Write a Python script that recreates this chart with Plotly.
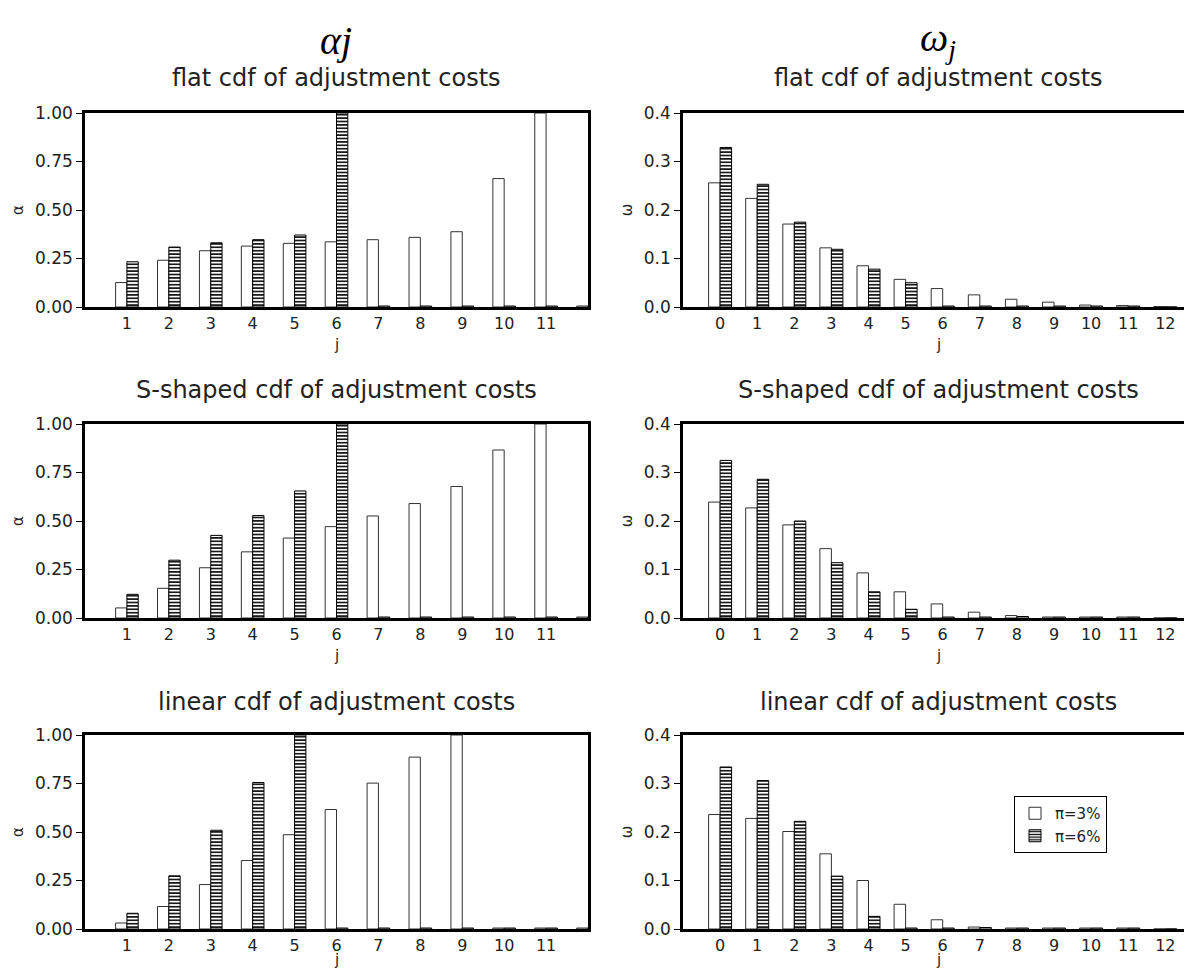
import plotly.graph_objects as go

# ---------------- data ----------------
j_alpha = [1, 2, 3, 4, 5, 6, 7, 8, 9, 10, 11, 12]
j_omega = [0, 1, 2, 3, 4, 5, 6, 7, 8, 9, 10, 11, 12]
alpha_ticks = [1, 2, 3, 4, 5, 6, 7, 8, 9, 10, 11]
omega_ticks = [0, 1, 2, 3, 4, 5, 6, 7, 8, 9, 10, 11, 12]

series_names = ["π=3%", "π=6%"]
panel_titles = ["flat cdf of adjustment costs",
                "S-shaped cdf of adjustment costs",
                "linear cdf of adjustment costs"]

# alpha_j  (flat, S-shaped, linear); pi = 3% and pi = 6%
alpha_flat_3 = [0.126, 0.241, 0.290, 0.314, 0.328, 0.336, 0.347, 0.359, 0.388, 0.662, 1.000, 0.005]
alpha_flat_6 = [0.233, 0.309, 0.331, 0.347, 0.371, 1.000, 0.005, 0.005, 0.005, 0.005, 0.005, 0.005]
alpha_s_3 = [0.052, 0.153, 0.259, 0.341, 0.412, 0.471, 0.526, 0.590, 0.678, 0.866, 1.000, 0.005]
alpha_s_6 = [0.122, 0.298, 0.426, 0.528, 0.655, 1.000, 0.005, 0.005, 0.005, 0.005, 0.005, 0.005]
alpha_lin_3 = [0.031, 0.116, 0.229, 0.353, 0.486, 0.616, 0.752, 0.886, 1.000, 0.005, 0.005, 0.005]
alpha_lin_6 = [0.081, 0.274, 0.509, 0.755, 1.000, 0.005, 0.005, 0.005, 0.005, 0.005, 0.005, 0.005]

# omega_j
omega_flat_3 = [0.256, 0.224, 0.171, 0.122, 0.085, 0.057, 0.038, 0.025, 0.016, 0.010, 0.004, 0.003, 0.001]
omega_flat_6 = [0.329, 0.253, 0.175, 0.119, 0.078, 0.050, 0.002, 0.002, 0.002, 0.002, 0.002, 0.002, 0.0]
omega_s_3 = [0.239, 0.227, 0.192, 0.143, 0.093, 0.054, 0.029, 0.012, 0.005, 0.002, 0.002, 0.002, 0.0]
omega_s_6 = [0.325, 0.286, 0.200, 0.114, 0.054, 0.018, 0.002, 0.002, 0.003, 0.002, 0.002, 0.002, 0.0]
omega_lin_3 = [0.236, 0.228, 0.201, 0.155, 0.100, 0.051, 0.019, 0.004, 0.002, 0.002, 0.002, 0.002, 0.0]
omega_lin_6 = [0.334, 0.306, 0.222, 0.109, 0.026, 0.002, 0.002, 0.003, 0.002, 0.002, 0.002, 0.002, 0.0]

alpha_series = [(alpha_flat_3, alpha_flat_6), (alpha_s_3, alpha_s_6), (alpha_lin_3, alpha_lin_6)]
omega_series = [(omega_flat_3, omega_flat_6), (omega_s_3, omega_s_6), (omega_lin_3, omega_lin_6)]

# ---------------- layout geometry ----------------
# the page body has an 8px default margin: size the figure so it fits the window
OFF = 8
W, H = 1192 - 2 * OFF, 977 - 2 * OFF


def px(xp):
    return (xp - OFF) / W


def py(yp):
    return 1 - (yp - OFF) / H


left_dom = [px(85), px(588)]
right_dom = [px(683), 1.0]
rows_px = [(113, 307), (424, 618), (735, 929)]
omega_right = -1 + (1192 - OFF - 683) / 37.1

TICK_FONT = dict(family="DejaVu Sans", size=17, color="#222")
XTICK_FONT = dict(family="DejaVu Sans", size=16, color="#222")
J_FONT = dict(family="DejaVu Sans", size=15, color="#222")
LINE_W = 2.5

fig = go.Figure()

white_marker = dict(color="white", line=dict(color="#333", width=1))
hatch_marker = dict(color="white", line=dict(color="black", width=1),
                    pattern=dict(shape="-", fgcolor="black", bgcolor="white",
                                 size=3.4, solidity=0.45))

layout = dict(template="none", width=W, height=H, margin=dict(l=0, r=0, t=0, b=0, pad=0),
              paper_bgcolor="white", plot_bgcolor="white",
              barmode="overlay", showlegend=True)

annotations = []
k = 0
for r in range(3):
    top, bot = rows_px[r]
    ydom = [py(bot), py(top)]
    for c in range(2):
        k += 1
        xa = "x" if k == 1 else f"x{k}"
        ya = "y" if k == 1 else f"y{k}"
        if c == 0:
            xs = j_alpha
            s3, s6 = alpha_series[r]
            bw = 0.27
            xrange = [0, 12]
            tickvals = alpha_ticks
            yrange = [0, 1.0]
            ytickvals = [0, 0.25, 0.5, 0.75, 1.0]
            ytext = [f"{v:.2f}" for v in ytickvals]
            ytitle = "α"
            dom = left_dom
            ymirror = True
            cx = dom[0] / 2 + dom[1] / 2
        else:
            xs = j_omega
            s3, s6 = omega_series[r]
            bw = 0.31
            xrange = [-1, omega_right]
            tickvals = omega_ticks
            yrange = [0, 0.4]
            ytickvals = [0, 0.1, 0.2, 0.3, 0.4]
            ytext = [f"{v:.1f}" for v in ytickvals]
            ytitle = "ω"
            dom = right_dom
            ymirror = False
            cx = px(938)
        fig.add_trace(go.Bar(x=xs, y=s3, width=bw, offset=-bw, marker=white_marker,
                             name=series_names[0], legendgroup="a",
                             showlegend=(k == 1), xaxis=xa, yaxis=ya))
        fig.add_trace(go.Bar(x=xs, y=s6, width=bw, offset=0, marker=hatch_marker,
                             name=series_names[1], legendgroup="b",
                             showlegend=(k == 1), xaxis=xa, yaxis=ya))
        xkey = "xaxis" if k == 1 else f"xaxis{k}"
        ykey = "yaxis" if k == 1 else f"yaxis{k}"
        layout[xkey] = dict(domain=dom, anchor=ya, range=xrange, tickvals=tickvals,
                            ticks="", showgrid=False, zeroline=False, automargin=False,
                            showline=True, linecolor="black", linewidth=LINE_W,
                            mirror=True, tickfont=XTICK_FONT)
        layout[ykey] = dict(domain=ydom, anchor=xa, range=yrange, tickvals=ytickvals,
                            ticktext=ytext, ticks="outside", ticklen=6, tickwidth=1,
                            tickcolor="black", showgrid=False, zeroline=False,
                            automargin=False,
                            showline=True, linecolor="black", linewidth=LINE_W,
                            mirror=ymirror, tickfont=TICK_FONT,
                            title=dict(text=ytitle,
                                       font=dict(family="DejaVu Sans", size=15, color="#222"),
                                       standoff=8))
        if c == 0:
            # inward ticks on the right-hand frame of the alpha panels
            layout[f"yaxis{k + 6}"] = dict(overlaying=ya, anchor=xa, side="right",
                                           range=yrange, tickvals=ytickvals,
                                           ticks="inside", ticklen=6, tickwidth=1,
                                           tickcolor="black", showticklabels=False,
                                           showgrid=False, zeroline=False,
                                           showline=False, automargin=False)
        # panel subtitle
        annotations.append(dict(text=panel_titles[r], x=cx, y=py(78 + 312 * r),
                                xref="paper", yref="paper", showarrow=False,
                                xanchor="center", yanchor="middle",
                                font=dict(family="DejaVu Sans", size=24, color="#222")))
        # x-axis title "j"
        annotations.append(dict(text="j", x=cx, y=py(bot + 38) if r < 2 else py(bot + 31),
                                xref="paper", yref="paper", showarrow=False,
                                xanchor="center", yanchor="middle", font=J_FONT))

annotations.append(dict(text="<i>αj</i>", x=px(336), y=py(40),
                        xref="paper", yref="paper", showarrow=False,
                        xanchor="center", yanchor="middle",
                        font=dict(family="Liberation Serif", size=40, color="black")))
annotations.append(dict(text="<i>ω<sub>j</sub></i>", x=px(938),
                        y=py(40), xref="paper", yref="paper", showarrow=False,
                        xanchor="center", yanchor="middle",
                        font=dict(family="Liberation Serif", size=40, color="black")))

layout["annotations"] = annotations
layout["legend"] = dict(x=px(1014), y=py(796), xanchor="left", yanchor="top",
                        bgcolor="white", bordercolor="black", borderwidth=1,
                        font=dict(family="DejaVu Sans", size=15, color="#222"),
                        itemwidth=30, tracegroupgap=0)

fig.update_layout(**layout)
fig.write_html("out.html")
